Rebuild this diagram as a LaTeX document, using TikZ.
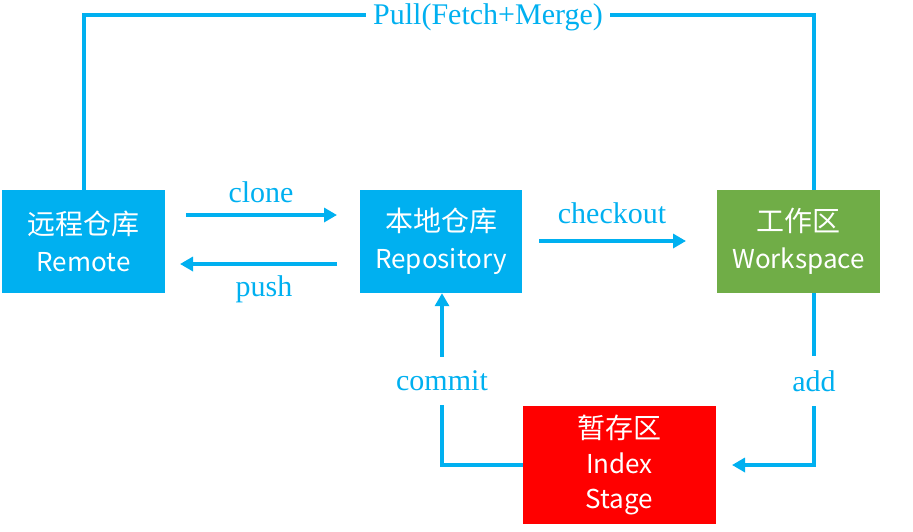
\documentclass[tikz,border=0pt]{standalone}
\usepackage{fontspec}
\setmainfont{Liberation Serif}
\newfontfamily\cjk{Noto Sans CJK SC}
\usetikzlibrary{arrows.meta}
\definecolor{gblue}{HTML}{00B0F0}
\definecolor{ggreen}{HTML}{70AD47}
\definecolor{gred}{HTML}{FF0000}
\newcommand{\zh}[1]{{\fontsize{28}{37}\selectfont #1}}
\tikzset{
  box/.style={draw=none, text=white, align=center, font=\cjk\fontsize{26}{37}\selectfont, inner sep=0pt},
  conn/.style={draw=gblue, line width=4.5pt},
  arr/.style={conn, -{Triangle[length=13pt,width=14pt]}},
  lbl/.style={text=gblue, font=\fontsize{30}{32}\selectfont, inner sep=0pt},
  gap/.style={lbl, fill=white}
}
\begin{document}
\begin{tikzpicture}[x=1pt,y=-1pt]
\useasboundingbox (0,0) rectangle (913,531);
\node[box, fill=gblue, minimum width=163pt, minimum height=103pt] (remote) at (83.5,241.5) {\zh{远程仓库}\\Remote};
\node[box, fill=gblue, minimum width=162pt, minimum height=103pt] (repo) at (441,241.5) {\zh{本地仓库}\\Repository};
\node[box, fill=ggreen, minimum width=163pt, minimum height=103pt] (work) at (798.5,241.5) {\zh{工作区}\\Workspace};
\node[box, fill=gred, minimum width=193pt, minimum height=118pt] (index) at (619.5,465) {\zh{暂存区}\\[-2pt]Index\\[-2pt]Stage};
% Pull
\coordinate (pa) at (84,15);
\coordinate (pb) at (814,15);
\draw[conn] (remote.north -| pa) -- (pa) -- (pb) -- (work.north -| pb);
\node[gap, inner xsep=7pt, inner ysep=2pt] (pull) at (488,17) {Pull(Fetch+Merge)};
% clone / push
\coordinate (c1) at (186,215);
\coordinate (c2) at (337,215);
\draw[arr] (c1) -- (c2);
\node[lbl] (clone) at (261,192) {clone};
\coordinate (p1) at (337,264);
\coordinate (p2) at (180,264);
\draw[arr] (p1) -- (p2);
\node[lbl] (push) at (264,289) {push};
% checkout
\coordinate (k1) at (539,241);
\coordinate (k2) at (686,241);
\draw[arr] (k1) -- (k2);
\node[lbl] (checkout) at (612,213) {checkout};
% commit
\coordinate (m1) at (442,465);
\draw[arr] (index.west |- m1) -- (m1) -- (m1 |- repo.south);
\node[gap, inner xsep=4pt, inner ysep=14pt] (commit) at (442,381) {commit};
% add
\coordinate (a1) at (814,465);
\coordinate (a2) at (732,465);
\draw[arr] (work.south -| a1) -- (a1) -- (a2);
\node[gap, inner xsep=4pt, inner ysep=14pt] (add) at (814,381) {add};
\end{tikzpicture}
\end{document}
